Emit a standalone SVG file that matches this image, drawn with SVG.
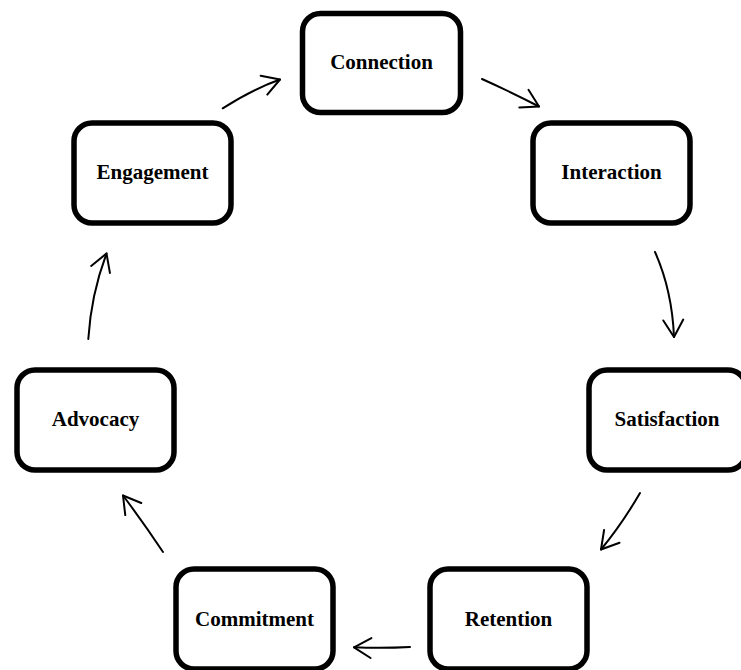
<svg xmlns="http://www.w3.org/2000/svg" width="741" height="670" viewBox="0 0 741 670">
<style>
.box{fill:#fff;stroke:#000;stroke-width:5.5}
.lbl{font-family:"Liberation Serif","Times New Roman",serif;font-weight:bold;font-size:21px;text-anchor:middle;fill:#000}
.arr{fill:none;stroke:#000;stroke-width:2;stroke-linecap:round;marker-end:url(#ah)}
</style>
<defs>
<marker id="ah" markerUnits="userSpaceOnUse" markerWidth="40" markerHeight="40" refX="0" refY="0" orient="auto" viewBox="-20 -20 40 40" overflow="visible">
<path d="M-17,-10 L0,0 L-17,10" fill="none" stroke="#000" stroke-width="2" stroke-linecap="round" stroke-linejoin="round"/>
</marker>
</defs>
<rect width="741" height="670" fill="#fff"/>
<g id="connectors">
<path class="arr" d="M482,79 Q511,92 539,106.5"/>
<path class="arr" d="M655,252 Q672,290 674,337"/>
<path class="arr" d="M640,493 Q622,524 601,549.5"/>
<path class="arr" d="M410,647 Q382,648.5 354,647.3"/>
<path class="arr" d="M163,552 Q143,522 123,495.5"/>
<path class="arr" d="M88.3,339 Q91,295 106.5,253.5"/>
<path class="arr" d="M222.7,108.3 Q253,89 280,79.5"/>
</g>
<g id="connection">
<rect class="box" x="302.5" y="13.5" width="158" height="99" rx="18"/>
<text class="lbl" x="381.5" y="69">Connection</text>
</g>
<g id="interaction">
<rect class="box" x="533" y="123" width="157" height="100" rx="18"/>
<text class="lbl" x="611.5" y="179">Interaction</text>
</g>
<g id="satisfaction">
<rect class="box" x="589" y="370" width="157" height="100" rx="18"/>
<text class="lbl" x="667" y="426">Satisfaction</text>
</g>
<g id="retention">
<rect class="box" x="430" y="569" width="157" height="100" rx="18"/>
<text class="lbl" x="508.5" y="626">Retention</text>
</g>
<g id="commitment">
<rect class="box" x="176" y="569" width="157" height="100" rx="18"/>
<text class="lbl" x="254.5" y="626">Commitment</text>
</g>
<g id="advocacy">
<rect class="box" x="17" y="370" width="157" height="100" rx="18"/>
<text class="lbl" x="95.5" y="426">Advocacy</text>
</g>
<g id="engagement">
<rect class="box" x="74" y="123" width="157" height="100" rx="18"/>
<text class="lbl" x="152.5" y="179">Engagement</text>
</g>
</svg>
